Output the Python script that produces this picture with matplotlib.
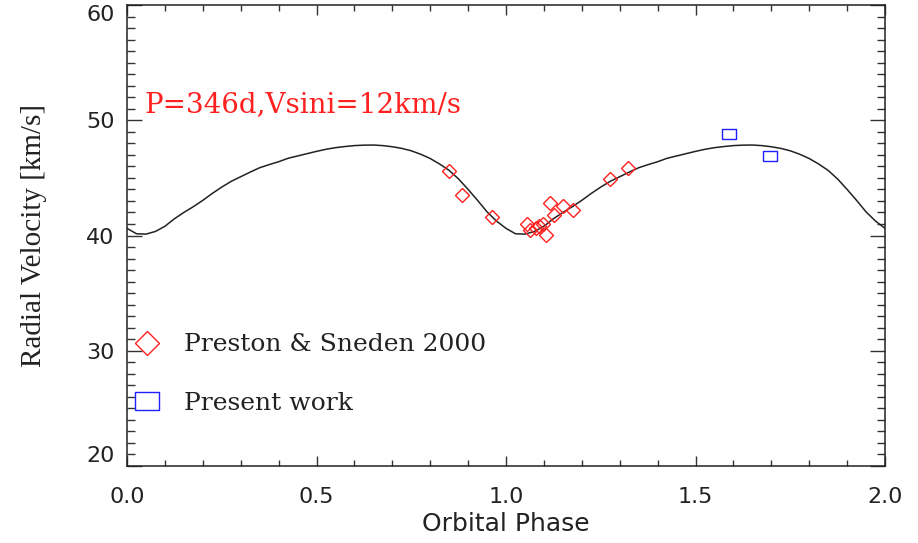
import numpy as np
import matplotlib
matplotlib.use("Agg")
import matplotlib.pyplot as plt
from matplotlib.ticker import MultipleLocator

# ---- data ----
# orbital model curve, one cycle, phase step 0.025
curve_phase = [0.000, 0.025, 0.050, 0.075, 0.100, 0.125, 0.150, 0.175, 0.200, 0.225,
               0.250, 0.275, 0.300, 0.325, 0.350, 0.375, 0.400, 0.425, 0.450, 0.475,
               0.500, 0.525, 0.550, 0.575, 0.600, 0.625, 0.650, 0.675, 0.700, 0.725,
               0.750, 0.775, 0.800, 0.825, 0.850, 0.875, 0.900, 0.925, 0.950, 0.975, 1.000]
curve_rv = [40.62, 40.15, 40.12, 40.35, 40.80, 41.45, 42.00, 42.50, 43.05, 43.65,
            44.20, 44.70, 45.10, 45.50, 45.88, 46.15, 46.40, 46.70, 46.90, 47.10,
            47.30, 47.48, 47.62, 47.72, 47.80, 47.84, 47.85, 47.80, 47.70, 47.56,
            47.35, 47.05, 46.68, 46.20, 45.65, 44.90, 44.00, 43.05, 42.05, 41.25, 40.62]

ps_phase = [0.850, 0.885, 0.962, 1.055, 1.063, 1.079, 1.088, 1.097, 1.105, 1.116,
            1.127, 1.151, 1.178, 1.274, 1.321]
ps_rv = [45.60, 43.51, 41.58, 41.02, 40.45, 40.62, 40.80, 41.02, 40.07, 42.79,
         41.78, 42.59, 42.19, 44.90, 45.88]

pw_phase = [1.588, 1.696]
pw_rv = [48.78, 46.90]

xticks = [0.0, 0.5, 1.0, 1.5, 2.0]
xticklabels = ["0.0", "0.5", "1.0", "1.5", "2.0"]
yticks = [20, 30, 40, 50, 60]
yticklabels = ["20", "30", "40", "50", "60"]

# ---- figure ----
fig = plt.figure(figsize=(9.18, 5.43), dpi=100)
ax = fig.add_axes([127/918, 1-466/543, (885-127)/918, (466-5)/543])

cp = np.array(curve_phase)
cv = np.array(curve_rv)
xc = np.concatenate([cp, cp[1:] + 1.0])
yc = np.concatenate([cv, cv[1:]])
ax.plot(xc, yc, color='#222222', lw=1.1, zorder=2, solid_joinstyle='round')

ax.plot(ps_phase, ps_rv, linestyle='none', marker='D', markersize=7,
        markerfacecolor='none', markeredgecolor='#ff2020', markeredgewidth=1.0,
        label='Preston & Sneden 2000', zorder=3)
rect = [(-1, -0.72), (1, -0.72), (1, 0.72), (-1, 0.72), (-1, -0.72)]
ax.plot(pw_phase, pw_rv, linestyle='none', marker=rect, markersize=9.5,
        markerfacecolor='none', markeredgecolor='#2020ff', markeredgewidth=1.0,
        label='Present work', zorder=3)

ax.set_xlim(0, 2)
ax.set_ylim(20, 60)
ax.set_xticks(xticks)
ax.set_xticklabels(xticklabels)
ax.set_yticks(yticks)
ax.set_yticklabels(yticklabels)
ax.xaxis.set_minor_locator(MultipleLocator(0.1))
ax.yaxis.set_minor_locator(MultipleLocator(1))

for s in ax.spines.values():
    s.set_linewidth(1.1)
    s.set_color('#222222')

ax.tick_params(axis='both', which='both', direction='in', top=True, right=True,
               colors='#333333', width=1.0)
ax.tick_params(axis='x', which='major', length=7.5, pad=15, labelsize=16,
               labelcolor='#222222')
ax.tick_params(axis='x', which='minor', length=4)
ax.tick_params(axis='y', which='major', length=11, pad=9, labelsize=16,
               labelcolor='#222222')
ax.tick_params(axis='y', which='minor', length=5.5)
for lab in ax.get_xticklabels() + ax.get_yticklabels():
    lab.set_family('DejaVu Sans')
ylabs = ax.get_yticklabels()
ylabs[0].set_verticalalignment('bottom')
ylabs[-1].set_verticalalignment('top')

ax.set_xlabel('Orbital Phase', fontsize=18, family='DejaVu Sans', color='#222222',
              labelpad=4)
ax.set_ylabel('Radial Velocity [km/s]', fontsize=21, family='Liberation Serif',
              color='#222222', labelpad=28)

ax.text(0.047, 50.72, 'P=346d,Vsini=12km/s', color='#ff2020', fontsize=20,
        family='DejaVu Serif', va='baseline', ha='left')

leg = ax.legend(loc='upper left', bbox_to_anchor=(0.0, 0.304), frameon=False,
                handlelength=1.0, handletextpad=1.0, markerscale=1.8,
                labelspacing=1.42, borderpad=0.3, borderaxespad=0.0,
                prop={'family': 'DejaVu Serif', 'size': 18})
for t in leg.get_texts():
    t.set_color('#222222')

fig.savefig('out.png', dpi=100)
